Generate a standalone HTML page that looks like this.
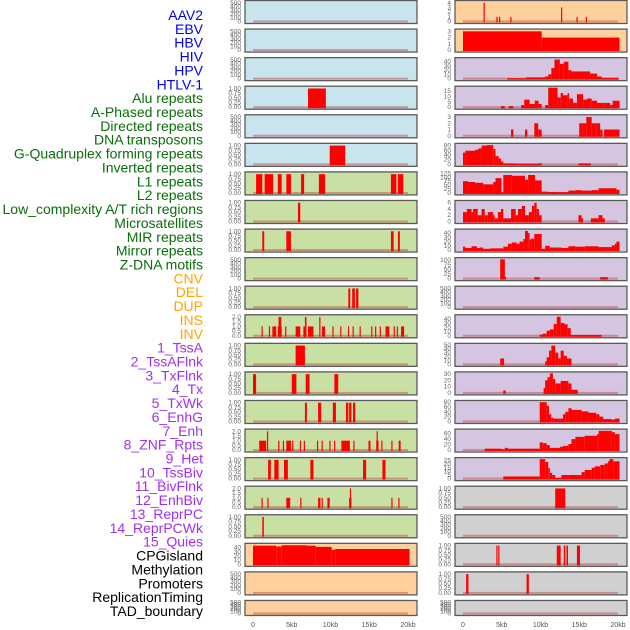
<!DOCTYPE html>
<html><head><meta charset="utf-8">
<style>
html,body{margin:0;padding:0;background:#fff;}
svg{display:block;font-family:"Liberation Sans",sans-serif;}
</style></head>
<body>
<svg id="chart" width="630" height="630" viewBox="0 0 630 630" xmlns="http://www.w3.org/2000/svg"></svg>
<script>
// ---------- data (kb segments: [start, end, value]) ----------
const trackNames = ["AAV2","EBV","HBV","HIV","HPV","HTLV-1","Alu repeats","A-Phased repeats","Directed repeats","DNA transposons","G-Quadruplex forming repeats","Inverted repeats","L1 repeats","L2 repeats","Low_complexity A/T rich regions","Microsatellites","MIR repeats","Mirror repeats","Z-DNA motifs","CNV","DEL","DUP","INS","INV","1_TssA","2_TssAFlnk","3_TxFlnk","4_Tx","5_TxWk","6_EnhG","7_Enh","8_ZNF_Rpts","9_Het","10_TssBiv","11_BivFlnk","12_EnhBiv","13_ReprPC","14_ReprPCWk","15_Quies","CPGisland","Methylation","Promoters","ReplicationTiming","TAD_boundary"];
const labelGroups = ["virus","virus","virus","virus","virus","virus","rep","rep","rep","rep","rep","rep","rep","rep","rep","rep","rep","rep","rep","sv","sv","sv","sv","sv","hmm","hmm","hmm","hmm","hmm","hmm","hmm","hmm","hmm","hmm","hmm","hmm","hmm","hmm","hmm","other","other","other","other","other"];
const xTickValues = [0,5,10,15,20];
const xTickLabels = ["0","5kb","10kb","15kb","20kb"];
const ticks01 = [0,0.25,0.5,0.75,1];
const ticksEmpty = [0,100,200,300,400,500];
const ticks02 = [0,0.5,1,1.5,2];

const segHIV = [[7.1,9.4,1]];
const segHTLV = [[9.9,11.9,1]];
const segAlu = [[0.4,1.2,1],[1.5,2.6,1],[3.2,3.7,1],[4.3,4.9,1],[6.2,6.6,1],[8.5,9.3,1],[17.8,18.5,1],[18.7,19.4,1]];
const segAPhased = [[5.8,6.1,1]];
const segDirected = [[1.2,1.45,1],[4.3,4.9,1],[17.8,18.15,1],[18.7,18.95,1]];
const segGQuad = [[12.3,12.55,1],[12.8,13.15,1],[13.3,13.6,1]];
const segInverted = [[1.1,1.25,1],[2.05,2.2,1],[2.5,3.0,1],[3.2,3.7,1],[3.3,3.65,2],[4.15,4.3,1],[5.5,6.1,1],[6.5,6.85,1],[6.7,6.9,2],[7.1,7.8,1],[8.55,8.7,2],[8.9,9.3,1],[10.25,10.4,1],[11.25,11.4,1],[12.25,12.4,1],[12.85,13.0,1],[13.75,13.9,1],[15.25,15.4,1],[15.75,15.9,1],[16.35,16.5,1],[17.1,17.6,1],[18.15,18.3,1],[18.55,18.7,1],[19.1,19.5,1]];
const segL1 = [[5.5,6.7,1]];
const segL2 = [[0.0,0.4,1],[5.0,5.6,1],[6.8,7.3,1],[10.5,11.0,1]];
const segLowComplex = [[6.7,6.95,1],[8.4,8.8,1],[10.3,10.7,1],[12.0,12.3,1],[12.4,12.7,1],[12.9,13.2,1]];
const segMicrosat = [[0.8,1.7,1],[1.8,1.95,2],[3.25,3.4,1],[3.85,4.0,1],[4.3,4.9,1],[5.05,5.2,1],[6.05,6.2,1],[6.55,6.7,1],[8.25,8.4,1],[8.85,9.0,1],[9.85,10.0,1],[10.45,10.6,1],[11.4,12.5,1],[12.95,13.1,1],[14.9,15.15,1],[15.9,16.2,1],[15.95,16.05,2],[16.55,16.7,1],[17.85,18.0,1],[18.8,19.05,1]];
const segMIR = [[1.95,2.3,1],[2.75,3.3,1],[4.0,4.5,1],[7.4,7.8,1],[14.2,14.6,1],[16.7,17.1,1]];
const segMirror = [[1.1,1.25,1],[1.85,2.0,1],[4.3,4.8,1],[6.1,6.25,1],[8.4,8.7,1],[8.85,9.0,1],[9.6,9.9,1],[12.4,12.7,1],[12.5,12.65,2],[17.85,18.0,1],[18.75,18.9,1]];
const segZDNA = [[1.2,1.4,1]];
const segCNV = [[0,3.0,45],[3.0,3.7,43],[3.7,6.9,46],[6.9,8.1,45],[8.1,10.15,42],[10.15,10.6,35],[10.6,20.2,37]];
const segINS = [[2.65,2.8,4],[4.3,4.45,1],[4.65,4.8,1],[6.1,6.25,1],[12.65,12.8,3],[14.65,14.8,1],[15.85,16.0,1]];
const segINV = [[0,10.15,3],[10.15,20.2,2]];
const segTssA = [[5.7,8.1,1],[8.1,10.6,3],[10.6,11.0,5],[11.0,11.4,10],[11.4,11.8,25],[11.8,12.5,45],[12.5,13.0,35],[13.0,13.6,40],[13.6,14.0,20],[14.0,16.4,17],[16.4,17.3,12],[17.3,17.9,5],[17.9,20.1,2]];
const segTssAFlnk = [[4.9,5.4,1],[5.9,6.5,1],[7.5,7.9,2],[7.9,8.6,7],[8.6,8.9,3],[8.9,9.25,3],[9.25,9.75,6],[9.75,10.15,3],[10.6,11.0,2],[11.0,12.2,18],[12.2,12.6,9],[12.6,12.9,13],[12.9,13.5,11],[13.5,13.7,13],[13.7,14.2,8],[14.2,14.7,4],[14.7,15.5,12],[15.5,16.0,7],[16.0,16.6,8],[16.6,17.3,6],[17.3,18.1,4],[18.1,19.0,4],[19.0,19.3,2],[19.3,20.2,6]];
const segTxFlnk = [[6.2,6.5,1],[8.0,8.3,1],[9.2,9.7,2],[9.7,10.15,1],[15.0,15.4,2],[15.4,15.9,2],[15.9,16.6,3],[16.6,17.2,2],[17.2,17.7,2],[17.7,18.0,1],[18.2,20.2,1]];
const segTx = [[0,0.3,50],[0.3,1.55,58],[1.55,2.0,62],[2.0,2.4,68],[2.4,3.1,80],[3.1,3.9,82],[3.9,4.2,65],[4.2,4.6,35],[4.6,4.9,25],[4.9,5.2,12],[5.2,6.7,4],[6.7,9.7,3],[9.7,10.15,4],[14.9,16.5,4]];
const segTxWk = [[0,0.7,75],[0.7,1.55,70],[1.55,2.6,65],[2.6,3.9,55],[3.9,4.2,70],[4.2,4.97,95],[4.97,5.2,5],[5.2,6.3,115],[6.3,8.0,110],[8.0,8.4,85],[8.4,9.3,115],[9.3,10.15,80],[10.15,11.0,8],[11.0,12.3,6],[12.3,13.6,5],[13.6,14.5,15],[14.5,15.3,18],[15.3,16.6,15],[16.6,17.5,18],[17.5,19.8,30],[19.8,20.2,20]];
const segEnhG = [[0,0.5,3],[0.5,1.1,4],[1.1,1.3,3],[1.3,1.9,4],[1.9,2.4,2],[2.4,2.8,4],[2.8,3.2,2],[3.2,3.9,3],[3.9,4.1,2],[4.1,4.5,1],[4.5,4.9,3],[4.9,5.2,4],[5.2,6.2,1],[6.2,6.8,4],[6.8,7.1,2],[7.1,7.6,4],[7.6,8.0,5],[8.0,8.5,2],[8.5,8.9,3],[8.9,9.2,5],[9.2,9.5,6],[9.5,9.8,4],[9.8,10.15,2],[14.9,15.3,2],[15.3,15.5,1],[16.5,17.5,1],[17.5,18.0,2],[18.0,18.3,1]];
const segEnh = [[0,0.3,8],[0.3,1.1,5],[1.1,1.8,9],[1.8,2.2,5],[2.2,2.6,6],[2.6,3.5,3],[3.5,5.2,4],[5.2,5.8,8],[5.8,6.3,15],[6.3,6.9,18],[6.9,7.3,15],[7.3,7.8,20],[7.8,8.0,26],[8.0,8.4,45],[8.4,8.6,40],[8.6,8.8,25],[8.8,9.2,27],[9.2,10.15,38],[10.15,10.6,3],[10.6,11.2,10],[11.2,12.7,6],[12.7,13.6,5],[13.6,14.5,9],[14.5,15.7,8],[15.7,17.5,9],[17.5,19.2,7],[19.2,19.6,11],[19.6,19.8,15],[19.8,20.2,20]];
const segZNF = [[4.8,5.4,105],[5.4,5.5,10],[9.2,9.9,8],[17.7,18.7,8]];
const segTssBiv = [[9.9,10.3,3],[10.3,10.8,5],[10.8,11.2,12],[11.2,11.7,15],[11.7,12.1,28],[12.1,12.6,45],[12.6,13.1,30],[13.1,13.5,27],[13.5,13.9,18],[13.9,17.9,2]];
const segBivFlnk = [[4.8,5.3,15],[10.6,10.8,8],[10.8,11.1,18],[11.1,11.4,35],[11.4,11.9,48],[11.9,12.3,30],[12.3,12.6,15],[12.6,13.0,35],[13.0,13.4,22],[13.4,14.0,15]];
const segEnhBiv = [[5.2,5.5,4],[10.4,10.6,8],[10.6,10.9,20],[10.9,11.2,25],[11.2,11.6,31],[11.6,11.9,22],[11.9,12.6,15],[12.6,13.6,19],[13.6,14.0,15],[14.0,14.8,5]];
const segReprPC = [[9.9,10.8,80],[10.8,11.1,65],[11.1,11.4,30],[11.4,11.7,15],[11.7,12.3,12],[12.3,12.9,12],[12.9,13.2,30],[13.2,13.6,40],[13.6,14.0,55],[14.0,15.3,48],[15.3,16.2,42],[16.2,17.2,36],[17.2,17.6,30],[17.6,18.1,20],[18.1,19.2,10],[19.2,19.6,8],[19.6,20.2,12]];
const segReprPCWk = [[2.8,5.0,5],[5.0,5.4,3],[5.4,5.8,8],[5.8,9.9,5],[9.9,10.3,28],[10.3,10.8,25],[10.8,11.2,18],[11.2,12.5,8],[12.5,12.9,12],[12.9,13.6,15],[13.6,14.0,22],[14.0,14.5,40],[14.5,15.7,48],[15.7,17.3,52],[17.3,17.5,58],[17.5,19.2,70],[19.2,19.6,65],[19.6,20.2,58]];
const segQuies = [[5.2,9.9,3],[9.9,10.6,27],[10.6,11.0,23],[11.0,11.2,15],[11.2,11.5,8],[11.5,11.9,5],[11.9,12.7,1],[12.7,13.6,5],[13.6,15.3,5],[15.3,15.7,9],[15.7,16.6,12],[16.6,17.0,15],[17.0,17.7,17],[17.7,18.3,19],[18.3,18.7,21],[18.7,18.9,24],[18.9,19.4,27],[19.4,20.2,24]];
const segCPG = [[11.9,13.2,1]];
const segPromoters = [[4.3,4.45,1],[4.55,4.7,1],[12.1,12.6,1],[13.0,13.2,1],[13.35,13.55,1],[14.7,15.1,1]];
const segRepTiming = [[0.4,0.7,1],[8.2,8.5,1]];

// ---------- track config ----------
const tracks = [
 {seg:[],ticks:ticksEmpty,bg:"#c8e4ec"},{seg:[],ticks:ticksEmpty,bg:"#c8e4ec"},{seg:[],ticks:ticksEmpty,bg:"#c8e4ec"},
 {seg:segHIV,ticks:ticks01,bg:"#c8e4ec",dec:2},{seg:[],ticks:ticksEmpty,bg:"#c8e4ec"},{seg:segHTLV,ticks:ticks01,bg:"#c8e4ec",dec:2},
 {seg:segAlu,ticks:ticks01,bg:"#c9e0a5",dec:2},{seg:segAPhased,ticks:ticks01,bg:"#c9e0a5",dec:2},{seg:segDirected,ticks:ticks01,bg:"#c9e0a5",dec:2},
 {seg:[],ticks:ticksEmpty,bg:"#c9e0a5"},{seg:segGQuad,ticks:ticks01,bg:"#c9e0a5",dec:2},{seg:segInverted,ticks:ticks02,bg:"#c9e0a5",dec:1},
 {seg:segL1,ticks:ticks01,bg:"#c9e0a5",dec:2},{seg:segL2,ticks:ticks01,bg:"#c9e0a5",dec:2},{seg:segLowComplex,ticks:ticks01,bg:"#c9e0a5",dec:2},
 {seg:segMicrosat,ticks:ticks02,bg:"#c9e0a5",dec:1},{seg:segMIR,ticks:ticks01,bg:"#c9e0a5",dec:2},{seg:segMirror,ticks:ticks02,bg:"#c9e0a5",dec:1},
 {seg:segZDNA,ticks:ticks01,bg:"#c9e0a5",dec:2},{seg:segCNV,ticks:[0,10,20,30,40],max:47,bg:"#fed09e"},{seg:[],ticks:ticksEmpty,bg:"#fed09e"},
 {seg:[],ticks:ticksEmpty,bg:"#fed09e",short:true},
 {seg:segINS,ticks:[0,1,2,3,4],bg:"#fed09e"},{seg:segINV,ticks:[0,1,2,3],bg:"#fed09e"},
 {seg:segTssA,ticks:[0,10,20,30,40],max:46,bg:"#d5c5e1"},{seg:segTssAFlnk,ticks:[0,5,10,15],max:18,bg:"#d5c5e1"},{seg:segTxFlnk,ticks:[0,1,2,3],bg:"#d5c5e1"},
 {seg:segTx,ticks:[0,20,40,60,80],max:83,bg:"#d5c5e1"},{seg:segTxWk,ticks:[0,25,50,75,100,125],max:125,bg:"#d5c5e1"},{seg:segEnhG,ticks:[0,2,4,6],bg:"#d5c5e1"},
 {seg:segEnh,ticks:[0,10,20,30,40],max:46,bg:"#d5c5e1"},{seg:segZNF,ticks:[0,25,50,75,100],max:106,bg:"#d5c5e1"},{seg:[],ticks:ticksEmpty,bg:"#d5c5e1"},
 {seg:segTssBiv,ticks:[0,10,20,30,40],max:46,bg:"#d5c5e1"},{seg:segBivFlnk,ticks:[0,10,20,30,40,50],max:50,bg:"#d5c5e1"},{seg:segEnhBiv,ticks:[0,10,20,30],max:31,bg:"#d5c5e1"},
 {seg:segReprPC,ticks:[0,20,40,60,80],max:81,bg:"#d5c5e1"},{seg:segReprPCWk,ticks:[0,20,40,60],max:71,bg:"#d5c5e1"},{seg:segQuies,ticks:[0,5,10,15,20,25],max:27,bg:"#d5c5e1"},
 {seg:segCPG,ticks:ticks01,bg:"#d0d0d0",dec:2},{seg:[],ticks:ticksEmpty,bg:"#d0d0d0"},{seg:segPromoters,ticks:ticks01,bg:"#d0d0d0",dec:2},
 {seg:segRepTiming,ticks:ticks01,bg:"#d0d0d0",dec:2},{seg:[],ticks:ticksEmpty,bg:"#d0d0d0",short:true}
];
const groupColors = {virus:"#0000ee",rep:"#0a6e0a",sv:"#ffa500",hmm:"#a030f0",other:"#000"};

const NS = "http://www.w3.org/2000/svg";
const svg = document.getElementById("chart");
function mk(tag, attrs, parent){const e=document.createElementNS(NS,tag);for(const k in attrs)e.setAttribute(k,attrs[k]);(parent||svg).appendChild(e);return e;}

trackNames.forEach((n,i)=>{
  const t = mk("text",{x:203,y:15+i*13.86+5,"text-anchor":"end","font-size":"14",fill:groupColors[labelGroups[i]]});
  t.textContent = n;
  
  
});

const cols = [{px:245,pw:172,x0:253,x1:408,tx:241},{px:455,pw:172,x0:463,x1:618,tx:451}];
const rowPitch = 28.57;

tracks.forEach((tr,i)=>{
  const c = cols[i<22?0:1]; const r = i%22;
  const top = r*rowPitch; const h = tr.short?16:24; const bot = top+h;
  const g = mk("g",{});
  
  
  const bg = mk("rect",{x:c.px,y:top+0.5,width:c.pw,height:h-1,fill:tr.bg,stroke:"#5a5a5a","stroke-width":1.3},g);
  
  
  const maxTick = tr.ticks[tr.ticks.length-1];
  const ymax = tr.max || maxTick*1.04;
  const y0 = bot-2.5, y1 = top+2;
  const ys = v => y0 - v/ymax*(y0-y1);
  const xs = kb => c.x0 + kb/20*(c.x1-c.x0);
  tr.ticks.forEach(v=>{
    const t = mk("text",{x:c.tx,y:ys(v)+2,"text-anchor":"end","font-size":"6.5",fill:"#666"},g);
    t.textContent = tr.dec? v.toFixed(tr.dec) : String(v);
    
    
  });
  const bl = mk("rect",{x:xs(0),y:y0-1,width:xs(20)-xs(0),height:2,fill:"rgba(190,40,40,0.4)"},g);
  
  
  tr.seg.forEach(s=>{
    const xa = xs(s[0]), xb = xs(s[1]);
    const b = mk("rect",{x:xa,y:ys(s[2]),width:Math.max(1.2,xb-xa),height:y0+1-ys(s[2]),fill:"#ff0000"},g);
    
    
  });
});

cols.forEach(c=>{
  xTickValues.forEach((v,j)=>{
    const t = mk("text",{x:c.x0+v/20*(c.x1-c.x0),y:627,"text-anchor":"middle","font-size":"7",fill:"#555"});
    t.textContent = xTickLabels[j];
    
    
  });
});
</script>
</body></html>
